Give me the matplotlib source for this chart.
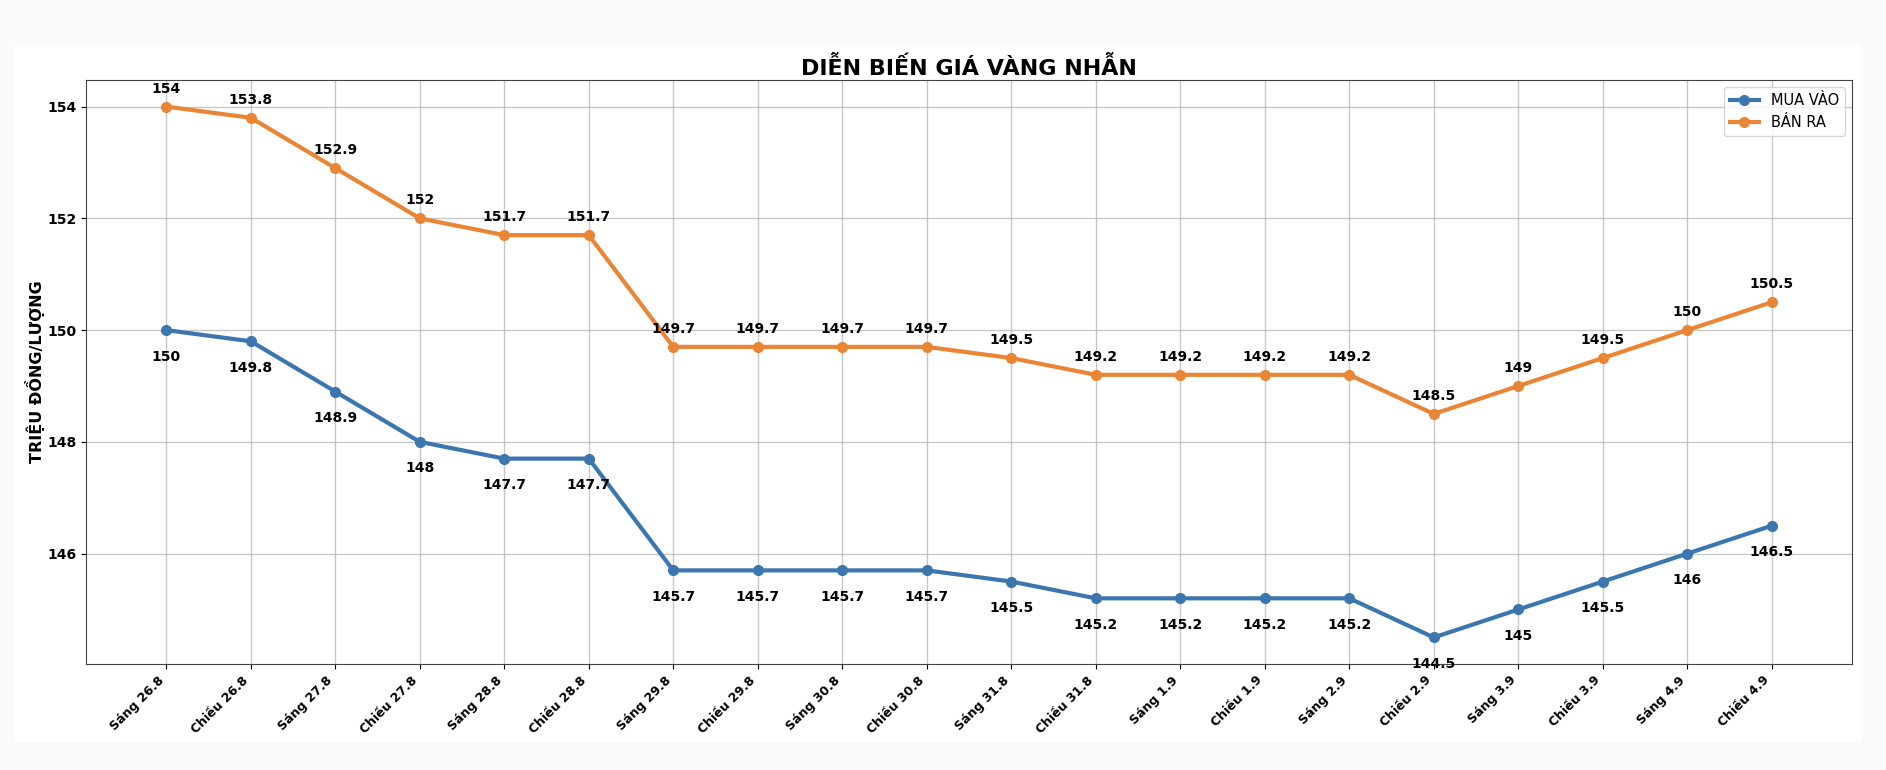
import numpy as np
import matplotlib
matplotlib.use("Agg")
import matplotlib.pyplot as plt
from matplotlib.patches import Rectangle

labels = ["Sáng 26.8", "Chiều 26.8", "Sáng 27.8", "Chiều 27.8", "Sáng 28.8",
          "Chiều 28.8", "Sáng 29.8", "Chiều 29.8", "Sáng 30.8", "Chiều 30.8",
          "Sáng 31.8", "Chiều 31.8", "Sáng 1.9", "Chiều 1.9", "Sáng 2.9",
          "Chiều 2.9", "Sáng 3.9", "Chiều 3.9", "Sáng 4.9", "Chiều 4.9"]
mua_vao = [150, 149.8, 148.9, 148, 147.7, 147.7, 145.7, 145.7, 145.7, 145.7,
           145.5, 145.2, 145.2, 145.2, 145.2, 144.5, 145, 145.5, 146, 146.5]
ban_ra = [154, 153.8, 152.9, 152, 151.7, 151.7, 149.7, 149.7, 149.7, 149.7,
          149.5, 149.2, 149.2, 149.2, 149.2, 148.5, 149, 149.5, 150, 150.5]

blue = "#3b76ae"
orange = "#ea8535"

fig = plt.figure(figsize=(18.86, 7.7), dpi=100, facecolor="#fafafa")
# white card behind the chart
fig.add_artist(Rectangle((0.008, 0.036), 0.979, 0.906, transform=fig.transFigure,
                         facecolor="white", edgecolor="none", zorder=-10))
ax = fig.add_axes([0.0456, 0.1377, 0.9364, 0.7583])

x = np.arange(len(labels))
ax.plot(x, mua_vao, "-o", color=blue, lw=3, ms=7, label="MUA VÀO")
ax.plot(x, ban_ra, "-o", color=orange, lw=3, ms=7, label="BÁN RA")

for i in range(len(x)):
    ax.annotate(f"{mua_vao[i]:g}", (x[i], mua_vao[i]), textcoords="offset points",
                xytext=(0, -14), ha="center", va="top", fontsize=10, fontweight="bold")
    ax.annotate(f"{ban_ra[i]:g}", (x[i], ban_ra[i]), textcoords="offset points",
                xytext=(0, 8), ha="center", va="bottom", fontsize=10, fontweight="bold")

ax.set_title("DIỄN BIẾN GIÁ VÀNG NHẪN", fontsize=16, fontweight="bold", pad=4)
ax.set_ylabel("TRIỆU ĐỒNG/LƯỢNG", fontsize=11.5, fontweight="bold", labelpad=1.5)
ax.set_xticks(x)
ax.set_xticklabels(labels, rotation=45, ha="right", fontsize=9, fontweight="bold")
ax.set_yticks([146, 148, 150, 152, 154])
for t in ax.get_yticklabels():
    t.set_fontweight("bold")
    t.set_fontsize(10)
ax.grid(True, color="#b0b0b0", alpha=0.7, lw=1)
ax.legend(loc="upper right", fontsize=10.5)
for s in ax.spines.values():
    s.set_color("#444444")

fig.savefig("out.png", dpi=100, facecolor=fig.get_facecolor())
